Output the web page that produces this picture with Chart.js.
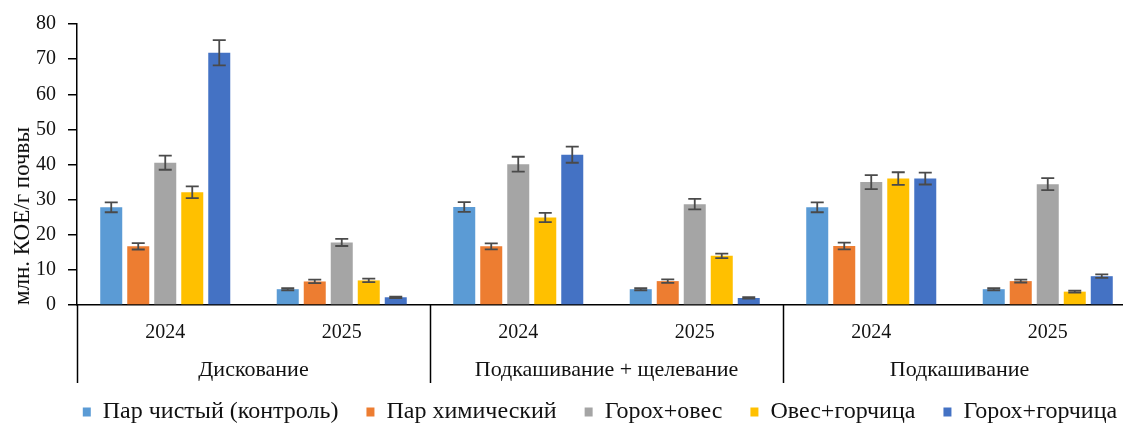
<!DOCTYPE html>
<html lang="ru">
<head>
<meta charset="utf-8">
<title>Численность микроорганизмов</title>
<script src="https://cdn.jsdelivr.net/npm/chart.js@4.4.1/dist/chart.umd.min.js"></script>
<style>
  html, body { margin: 0; padding: 0; background: #ffffff; overflow: hidden; }
  #wrap { position: relative; width: 1140px; height: 425px; }
  canvas { display: block; }
</style>
</head>
<body>
<div id="wrap"><canvas id="chart" width="1140" height="425"></canvas></div>
<script>
// Years (inner category row) and soil-treatment groups (outer row)
const years = ['2024', '2025', '2024', '2025', '2024', '2025'];
const groups = ['Дискование', 'Подкашивание + щелевание', 'Подкашивание'];

// Series names
const seriesNames = ['Пар чистый (контроль)', 'Пар химический', 'Горох+овес', 'Овес+горчица', 'Горох+горчица'];

// Mean values, млн. КОЕ/г почвы
const parChistyi  = [27.8, 4.5, 27.9, 4.5, 27.8, 4.5];
const parKhim     = [16.7, 6.7, 16.7, 6.8, 16.8, 6.8];
const gorokhOves  = [40.5, 17.8, 40.1, 28.7, 35.0, 34.4];
const ovesGorch   = [32.1, 7.0, 24.9, 14.0, 36.0, 3.8];
const gorokhGorch = [71.8, 2.2, 42.8, 2.0, 36.0, 8.2];

// Error-bar half widths
const parChistyiErr  = [1.4, 0.3, 1.4, 0.3, 1.4, 0.3];
const parKhimErr     = [0.9, 0.5, 0.85, 0.5, 0.95, 0.4];
const gorokhOvesErr  = [2.0, 1.0, 2.1, 1.5, 2.0, 1.7];
const ovesGorchErr   = [1.7, 0.5, 1.3, 0.65, 1.8, 0.3];
const gorokhGorchErr = [3.6, 0.2, 2.3, 0.2, 1.7, 0.5];

// Y axis ticks
const yTicks = [0, 10, 20, 30, 40, 50, 60, 70, 80];

const colors = ['#5B9BD5', '#ED7D31', '#A5A5A5', '#FFC000', '#4472C4'];
const values = [parChistyi, parKhim, gorokhOves, ovesGorch, gorokhGorch];
const errors = [parChistyiErr, parKhimErr, gorokhOvesErr, ovesGorchErr, gorokhGorchErr];

const FONT = "'Liberation Serif', 'Times New Roman', serif";
const PLOT_BOTTOM = 305;
const LEGEND_Y = 412;
const LEGEND_FONT = 24;
const LEGEND_PAD = 28;

// Draws ±error whiskers on every bar
const errorBars = {
  id: 'errorBars',
  afterDatasetsDraw(chart) {
    const ctx = chart.ctx;
    const y = chart.scales.y;
    ctx.save();
    ctx.strokeStyle = '#4a4a4a';
    ctx.lineWidth = 1.8;
    chart.data.datasets.forEach((ds, di) => {
      const meta = chart.getDatasetMeta(di);
      meta.data.forEach((bar, i) => {
        const v = ds.data[i], e = ds.errors[i];
        const yt = y.getPixelForValue(v + e);
        const yb = y.getPixelForValue(v - e);
        const half = 6.5;
        ctx.beginPath();
        ctx.moveTo(bar.x, yt); ctx.lineTo(bar.x, yb);
        ctx.moveTo(bar.x - half, yt); ctx.lineTo(bar.x + half, yt);
        ctx.moveTo(bar.x - half, yb); ctx.lineTo(bar.x + half, yb);
        ctx.stroke();
      });
    });
    ctx.restore();
  }
};

// Outer category row: group names and separators
const groupAxis = {
  id: 'groupAxis',
  afterDraw(chart) {
    const ctx = chart.ctx;
    const x = chart.scales.x;
    const area = chart.chartArea;
    const perGroup = years.length / groups.length;
    const cw = (x.right - x.left) / years.length;
    const lineBottom = area.bottom + 78;
    ctx.save();
    ctx.strokeStyle = '#000000';
    ctx.lineWidth = 1.5;
    for (let g = 0; g <= groups.length; g++) {
      const px = Math.round(x.left + g * perGroup * cw) + 0.5;
      ctx.beginPath();
      ctx.moveTo(px, area.bottom);
      ctx.lineTo(px, lineBottom);
      ctx.stroke();
    }
    ctx.fillStyle = '#111111';
    ctx.font = '22px ' + FONT;
    ctx.textAlign = 'center';
    ctx.textBaseline = 'middle';
    groups.forEach((name, g) => {
      const cx = x.left + (g + 0.5) * perGroup * cw;
      ctx.fillText(name, cx, area.bottom + 65);
    });
    ctx.restore();
  }
};

// Centres the legend row under the visible part of the figure
const legendPlace = {
  id: 'legendPlace',
  afterLayout(chart) {
    const lg = chart.legend;
    if (!lg) return;
    const shift = 600 - (lg.left + lg.right) / 2;
    lg.left += shift; lg.right += shift;
    const h = lg.bottom - lg.top;
    lg.top = LEGEND_Y - LEGEND_PAD - LEGEND_FONT / 2;
    lg.bottom = lg.top + h;
  }
};

new Chart(document.getElementById('chart'), {
  type: 'bar',
  data: {
    labels: years,
    datasets: seriesNames.map((name, i) => ({
      label: name,
      data: values[i],
      errors: errors[i],
      backgroundColor: colors[i],
      borderWidth: 0,
      categoryPercentage: 0.765,
      barPercentage: 0.815
    }))
  },
  options: {
    responsive: false,
    maintainAspectRatio: false,
    animation: false,
    devicePixelRatio: 1,
    layout: { padding: { top: 22, right: 4, left: 0, bottom: 0 } },
    plugins: {
      legend: {
        position: 'bottom',
        labels: {
          font: { family: FONT, size: LEGEND_FONT },
          color: '#111111',
          boxWidth: 8,
          boxHeight: 9,
          padding: LEGEND_PAD
        }
      },
      tooltip: { enabled: false }
    },
    scales: {
      x: {
        grid: { display: false },
        border: { display: true, color: '#000000', width: 1.5 },
        ticks: { font: { family: FONT, size: 20 }, color: '#111111', padding: 8, maxRotation: 0, autoSkip: false },
        afterFit(scale) {
          const lg = scale.chart.legend;
          const lh = lg && lg.height ? lg.height : 0;
          scale.height = scale.chart.height - PLOT_BOTTOM - lh;
        }
      },
      y: {
        min: 0,
        max: 80,
        afterBuildTicks(scale) { scale.ticks = yTicks.map(v => ({ value: v })); },
        grid: { drawOnChartArea: false, drawTicks: true, tickLength: 9, color: '#000000', lineWidth: 1.5 },
        border: { display: true, color: '#000000', width: 1.5 },
        ticks: { font: { family: FONT, size: 20 }, color: '#111111', padding: 12 },
        title: {
          display: true,
          text: 'млн. КОЕ/г почвы',
          align: 'start',
          font: { family: FONT, size: 23 },
          color: '#111111',
          padding: { top: 9, bottom: 0 }
        },
        afterFit(scale) { scale.width = 77; }
      }
    }
  },
  plugins: [errorBars, groupAxis, legendPlace]
});
</script>
</body>
</html>
